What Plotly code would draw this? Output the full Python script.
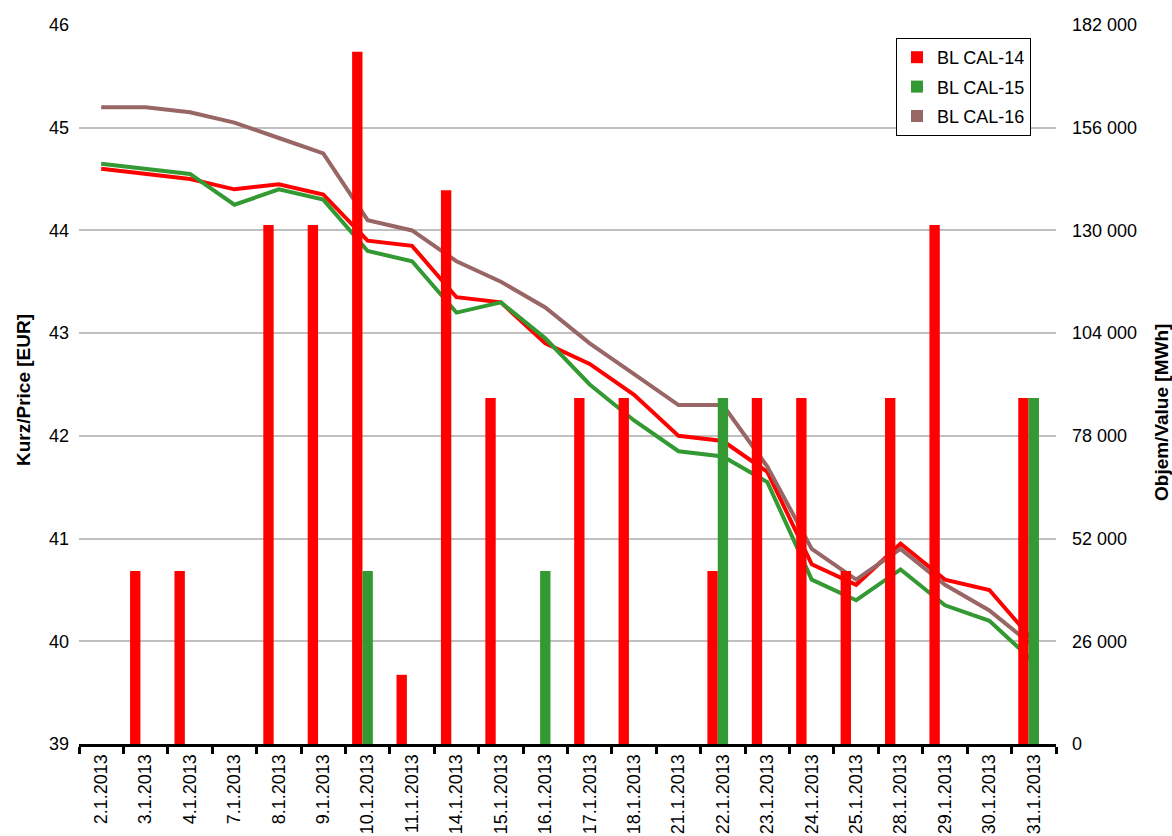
import plotly.graph_objects as go

dates = ["2.1.2013", "3.1.2013", "4.1.2013", "7.1.2013", "8.1.2013", "9.1.2013",
         "10.1.2013", "11.1.2013", "14.1.2013", "15.1.2013", "16.1.2013", "17.1.2013",
         "18.1.2013", "21.1.2013", "22.1.2013", "23.1.2013", "24.1.2013", "25.1.2013",
         "28.1.2013", "29.1.2013", "30.1.2013", "31.1.2013"]

# Volumes [MWh] (right axis)
vol_cal14 = [0, 43800, 43800, 0, 131400, 131400, 175200, 17520, 140160, 87600, 0,
             87600, 87600, 0, 43800, 87600, 87600, 43800, 87600, 131400, 0, 87600]
vol_cal15 = [0, 0, 0, 0, 0, 0, 43800, 0, 0, 0, 43800,
             0, 0, 0, 87600, 0, 0, 0, 0, 0, 0, 87600]
vol_cal16 = [0, 0, 0, 0, 0, 0, 0, 0, 0, 0, 0,
             0, 0, 0, 0, 0, 0, 0, 0, 0, 0, 0]

# Prices [EUR] (left axis)
price_cal14 = [44.6, 44.55, 44.5, 44.4, 44.45, 44.35, 43.9, 43.85, 43.35, 43.3, 42.9,
               42.7, 42.4, 42.0, 41.95, 41.65, 40.75, 40.55, 40.95, 40.6, 40.5, 40.0]
price_cal15 = [44.65, 44.6, 44.55, 44.25, 44.4, 44.3, 43.8, 43.7, 43.2, 43.3, 42.95,
               42.5, 42.15, 41.85, 41.8, 41.55, 40.6, 40.4, 40.7, 40.35, 40.2, 39.8]
price_cal16 = [45.2, 45.2, 45.15, 45.05, 44.9, 44.75, 44.1, 44.0, 43.7, 43.5, 43.25,
               42.9, 42.6, 42.3, 42.3, 41.7, 40.9, 40.6, 40.9, 40.55, 40.3, 39.95]

series_names = ["BL CAL-14", "BL CAL-15", "BL CAL-16"]
colors = ["#FF0000", "#339933", "#996666"]

left_ticks = [39, 40, 41, 42, 43, 44, 45, 46]
right_ticks = [0, 26000, 52000, 78000, 104000, 130000, 156000, 182000]
right_tick_labels = ["0", "26 000", "52 000", "78 000", "104 000", "130 000", "156 000", "182 000"]

FONT = "Arial, 'Liberation Sans', sans-serif"

fig = go.Figure()

# lines on primary (left) axis
for name, prices, col in zip(series_names, [price_cal14, price_cal15, price_cal16], colors):
    fig.add_trace(go.Scatter(x=dates, y=prices, mode="lines", name=name,
                             line=dict(color=col, width=4), showlegend=False,
                             yaxis="y"))

# bars on secondary (right) axis
for name, vols, col in zip(series_names, [vol_cal14, vol_cal15, vol_cal16], colors):
    fig.add_trace(go.Bar(x=dates, y=vols, name=name, marker=dict(color=col, line=dict(width=0)),
                         yaxis="y2", legendgroup=name))

fig.update_layout(
    width=1172, height=836,
    margin=dict(l=79, r=116, t=25, b=92, autoexpand=False),
    paper_bgcolor="white", plot_bgcolor="white",
    font=dict(family=FONT, size=18, color="#000000"),
    barmode="group", bargap=0.3, bargroupgap=0,
    xaxis=dict(type="category", categoryorder="array", categoryarray=dates,
               tickangle=-90, tickson="boundaries", ticks="outside", ticklen=7,
               tickwidth=3, tickcolor="black", showline=True, linecolor="black",
               linewidth=3, showgrid=False, automargin=False,
               tickfont=dict(size=18, family=FONT, color="#000000")),
    yaxis=dict(range=[39, 46], tickvals=left_ticks, showgrid=True, gridcolor="#C0C0C0",
               gridwidth=2, zeroline=False, showline=False, ticks="", automargin=False,
               ticklabelstandoff=9,
               tickfont=dict(size=18, family=FONT, color="#000000")),
    yaxis2=dict(range=[0, 182000], tickvals=right_ticks, ticktext=right_tick_labels,
                overlaying="y", side="right", showgrid=False, zeroline=False,
                showline=False, ticks="", automargin=False, ticklabelstandoff=15,
                tickfont=dict(size=18, family=FONT, color="#000000")),
    legend=dict(x=(896 - 79) / 977, y=(744 - 38) / 719, xanchor="left", yanchor="top",
                bordercolor="black", borderwidth=1, bgcolor="white",
                font=dict(size=18, family=FONT, color="#000000"),
                traceorder="grouped", tracegroupgap=3),
    annotations=[
        dict(text="<b>Kurz/Price [EUR]</b>", xref="paper", yref="paper",
             x=(23 - 79) / 977, y=(744 - 390) / 719, xanchor="center", yanchor="middle",
             textangle=-90, showarrow=False, font=dict(size=19, family=FONT, color="#000000")),
        dict(text="<b>Objem/Value [MWh]</b>", xref="paper", yref="paper",
             x=(1161 - 79) / 977, y=(744 - 413) / 719, xanchor="center", yanchor="middle",
             textangle=-90, showarrow=False, font=dict(size=19, family=FONT, color="#000000")),
    ],
)

fig.write_html("out.html", config={"displayModeBar": False},
               post_script="document.body.style.margin='0';document.body.style.overflow='hidden';")
